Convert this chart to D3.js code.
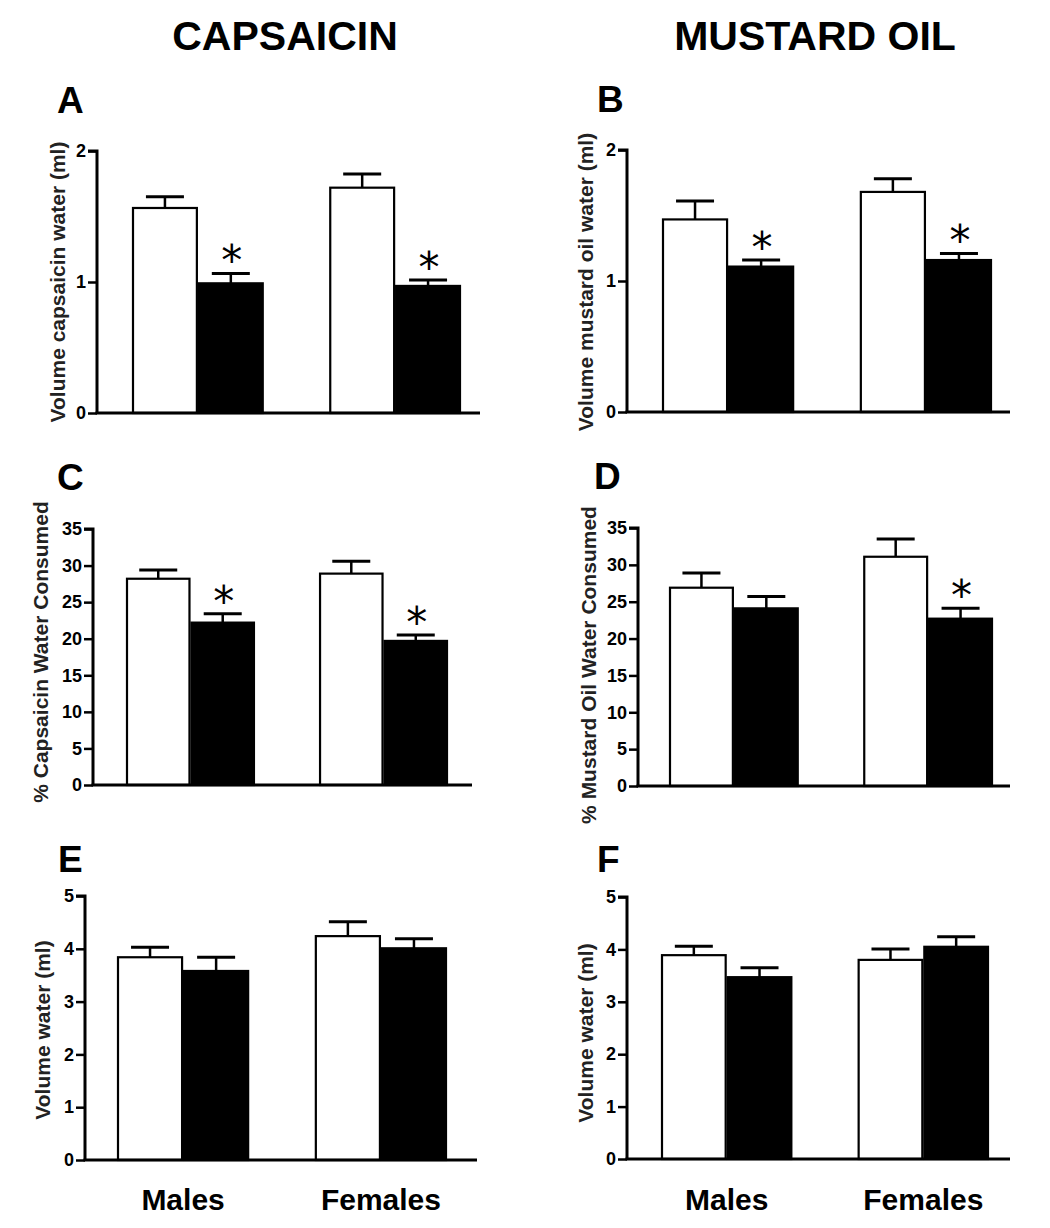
<!DOCTYPE html>
<html><head><meta charset="utf-8">
<script src="https://cdn.jsdelivr.net/npm/d3@7"></script>
<style>
html,body{margin:0;padding:0;background:#fff;}
text{font-family:"Liberation Sans",Arial,Helvetica,sans-serif;font-weight:bold;}
</style></head>
<body>
<svg id="chart" width="1050" height="1228"></svg>
<script>
// ---------- DATA ----------
const groups = ["Males", "Females"];
const series = ["Control", "Treated"];          // white, black bars
const columnTitles = ["CAPSAICIN", "MUSTARD OIL"];
const panelLetters = ["A", "B", "C", "D", "E", "F"];
const yLabels = [
  "Volume capsaicin water (ml)",
  "Volume mustard oil water (ml)",
  "% Capsaicin Water Consumed",
  "% Mustard Oil Water Consumed",
  "Volume water (ml)",
  "Volume water (ml)"
];
// means: [group][series]
const meanA = [[1.565, 0.99], [1.72, 0.97]];
const semA  = [[0.085, 0.075], [0.105, 0.045]];
const sigA  = [[false, true], [false, true]];

const meanB = [[1.47, 1.11], [1.68, 1.16]];
const semB  = [[0.14, 0.05], [0.10, 0.05]];
const sigB  = [[false, true], [false, true]];

const meanC = [[28.2, 22.2], [28.9, 19.7]];
const semC  = [[1.2, 1.2], [1.7, 0.8]];
const sigC  = [[false, true], [false, true]];

const meanD = [[26.9, 24.1], [31.1, 22.7]];
const semD  = [[2.0, 1.6], [2.4, 1.4]];
const sigD  = [[false, false], [false, true]];

const meanE = [[3.84, 3.58], [4.24, 4.01]];
const semE  = [[0.19, 0.26], [0.27, 0.18]];
const sigE  = [[false, false], [false, false]];

const meanF = [[3.89, 3.47], [3.80, 4.05]];
const semF  = [[0.17, 0.18], [0.21, 0.19]];
const sigF  = [[false, false], [false, false]];

const ticksAB = [0, 1, 2];
const ticksCD = [0, 5, 10, 15, 20, 25, 30, 35];
const ticksEF = [0, 1, 2, 3, 4, 5];

// ---------- LAYOUT ----------
const layout = [
  {mean: meanA, sem: semA, sig: sigA, ticks: ticksAB, ax: 97,  y0: 413, yT: 151, b0: 132, b1: 461, xEnd: 480, letter: [57, 113],  lab: [65, 282]},
  {mean: meanB, sem: semB, sig: sigB, ticks: ticksAB, ax: 627, y0: 412, yT: 150, b0: 662, b1: 992, xEnd: 1010, letter: [597, 112], lab: [593, 282]},
  {mean: meanC, sem: semC, sig: sigC, ticks: ticksCD, ax: 93,  y0: 785, yT: 529, b0: 126, b1: 448, xEnd: 472, letter: [57, 490],  lab: [48, 652]},
  {mean: meanD, sem: semD, sig: sigD, ticks: ticksCD, ax: 638, y0: 786, yT: 528, b0: 669, b1: 993, xEnd: 1010, letter: [594, 489], lab: [596, 665]},
  {mean: meanE, sem: semE, sig: sigE, ticks: ticksEF, ax: 85,  y0: 1160, yT: 896, b0: 117, b1: 447, xEnd: 477, letter: [58, 872], lab: [50, 1030]},
  {mean: meanF, sem: semF, sig: sigF, ticks: ticksEF, ax: 627, y0: 1159, yT: 897, b0: 661, b1: 989, xEnd: 1010, letter: [597, 872], lab: [593, 1033]}
];

const svg = d3.select("#chart");

// column titles
svg.selectAll("text.coltitle").data(columnTitles).enter().append("text")
  .attr("class", "coltitle")
  .attr("x", (d, i) => i === 0 ? 285 : 815)
  .attr("y", 50)
  .attr("text-anchor", "middle")
  .attr("font-size", 41)
  .text(d => d);

layout.forEach((p, pi) => {
  const g = svg.append("g");
  const ticks = p.ticks;
  const y = d3.scaleLinear().domain([0, ticks[ticks.length - 1]]).range([p.y0, p.yT]);
  const x = d3.scaleBand().domain(groups).range([p.b0, p.b1]).paddingInner(0.332).paddingOuter(0);
  const xs = d3.scaleBand().domain(series).range([0, x.bandwidth()]).padding(0);

  // bars
  groups.forEach((grp, gi) => {
    series.forEach((s, si) => {
      const v = p.mean[gi][si], e = p.sem[gi][si];
      const bx = x(grp) + xs(s), bw = xs.bandwidth();
      const cx = bx + bw / 2;
      // error bar (upper only)
      g.append("line").attr("x1", cx).attr("x2", cx)
        .attr("y1", y(v)).attr("y2", y(v + e))
        .attr("stroke", "#000").attr("stroke-width", 2.5);
      g.append("line").attr("x1", cx - 19).attr("x2", cx + 19)
        .attr("y1", y(v + e)).attr("y2", y(v + e))
        .attr("stroke", "#000").attr("stroke-width", 3);
      g.append("rect")
        .attr("x", bx + 1).attr("y", y(v))
        .attr("width", bw - 2).attr("height", y(0) - y(v))
        .attr("fill", si === 0 ? "#fff" : "#000")
        .attr("stroke", "#000").attr("stroke-width", 2.2);
      if (p.sig[gi][si]) {
        g.append("text")
          .attr("x", cx + 1)
          .attr("y", y(v + e) + 2)
          .attr("text-anchor", "middle")
          .attr("font-size", 42)
          .style("font-family", "'DejaVu Sans',sans-serif")
          .style("font-weight", "normal")
          .text("*");
      }
    });
  });

  // y axis
  const yAxis = d3.axisLeft(y).tickValues(ticks).tickSize(9).tickPadding(2).tickFormat(d3.format("d"));
  const ya = g.append("g").attr("transform", `translate(${p.ax},0)`).call(yAxis);
  ya.select(".domain").attr("stroke-width", 3).attr("d", `M-9,${p.yT}H0V${p.y0}`);
  ya.selectAll(".tick line").attr("stroke-width", 2.5);
  ya.selectAll(".tick text").attr("font-size", 18).attr("fill", "#000")
    .style("font-family", "'Liberation Sans',Arial,sans-serif").style("font-weight", "bold");

  // x axis line
  g.append("line").attr("x1", p.ax - 1.5).attr("x2", p.xEnd)
    .attr("y1", p.y0).attr("y2", p.y0)
    .attr("stroke", "#000").attr("stroke-width", 3);

  // y label
  g.append("text")
    .attr("transform", `translate(${p.lab[0]},${p.lab[1]}) rotate(-90)`)
    .attr("text-anchor", "middle")
    .attr("font-size", 21)
    .attr("fill", "#222")
    .text(yLabels[pi]);

  // panel letter
  g.append("text").attr("x", p.letter[0]).attr("y", p.letter[1])
    .attr("font-size", 37).text(panelLetters[pi]);

  // group labels on bottom row
  if (pi >= 4) {
    g.selectAll("text.grp").data(groups).enter().append("text")
      .attr("class", "grp")
      .attr("x", d => x(d) + x.bandwidth() / 2)
      .attr("y", 1210)
      .attr("text-anchor", "middle")
      .attr("font-size", 30)
      .text(d => d);
  }
});
</script>
</body></html>
